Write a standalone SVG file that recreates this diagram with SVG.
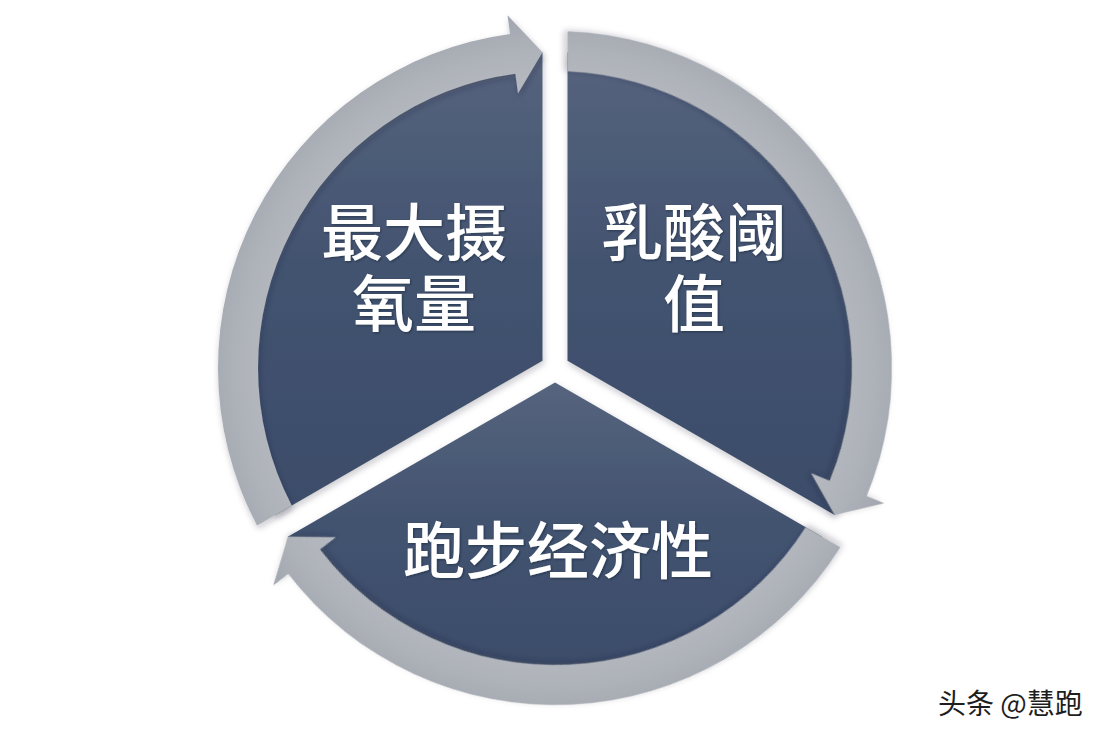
<svg xmlns="http://www.w3.org/2000/svg" width="1108" height="738" viewBox="0 0 1108 738">
  <defs>
    <linearGradient id="seg" x1="0" y1="0" x2="0" y2="1">
      <stop offset="0" stop-color="#56647e"/>
      <stop offset="0.45" stop-color="#435370"/>
      <stop offset="1" stop-color="#3b4c6a"/>
    </linearGradient>
    <radialGradient id="ringFill" gradientUnits="userSpaceOnUse" cx="555" cy="368" r="360">
      <stop offset="0.76" stop-color="#b7bac1"/>
      <stop offset="0.88" stop-color="#aeb2b9"/>
      <stop offset="0.95" stop-color="#a6aab2"/>
      <stop offset="1" stop-color="#a0a4ad"/>
    </radialGradient>
    <filter id="shadow" x="-10%" y="-10%" width="120%" height="120%">
      <feDropShadow dx="1" dy="3" stdDeviation="3" flood-color="#1c2333" flood-opacity="0.25"/>
    </filter>
    <filter id="tshadow" x="-5%" y="-5%" width="110%" height="110%">
      <feDropShadow dx="1" dy="1" stdDeviation="1" flood-color="#0e1626" flood-opacity="0.45"/>
    </filter>
    <path id="ringShape" d="M 257.10,525.56 A 337 337 0 0 1 510.02,34.02 L 507.49,15.19 L 542.5,52.25 L 518.03,93.48 L 515.36,73.66 A 297 297 0 0 0 291.77,505.54 Z"/>
  </defs>
  <style>
    .sector { fill: url(#seg); filter: url(#shadow); }
    .ring { fill: url(#ringFill); filter: url(#shadow); }
    .label { font-family: "Noto Sans CJK SC", "Noto Sans", sans-serif; font-size: 62px; font-weight: 500; fill: #ffffff; text-anchor: middle; filter: url(#tshadow); }
    .mark { font-family: "Noto Sans CJK SC", "Liberation Sans", sans-serif; font-size: 28px; font-weight: 400; fill: #1e1e1e; }
  </style>
  <rect x="0" y="0" width="1108" height="738" fill="#ffffff"/>

  <g id="node-vo2max">
    <path class="sector" d="M 542.5,360.8 L 275.30,515.05 A 316 316 0 0 1 542.5,52.25 Z"/>
    <text class="label"><tspan x="414" y="256">最大摄</tspan><tspan x="414" y="327">氧量</tspan></text>
  </g>

  <g id="node-lactate">
    <path class="sector" d="M 567.5,360.8 L 567.5,52.25 A 316 316 0 0 1 834.70,515.05 Z"/>
    <text class="label"><tspan x="694" y="256">乳酸阈</tspan><tspan x="694" y="327">值</tspan></text>
  </g>

  <g id="node-economy">
    <path class="sector" d="M 555,382.43 L 822.20,536.70 A 316 316 0 0 1 287.80,536.70 Z"/>
    <text class="label" x="558" y="574">跑步经济性</text>
  </g>

  <g id="connectors">
    <use href="#ringShape" class="ring"/>
    <use href="#ringShape" class="ring" transform="rotate(120 555 368)"/>
    <use href="#ringShape" class="ring" transform="rotate(240 555 368)"/>
  </g>

  <text class="mark" x="938" y="714">头条 @慧跑</text>
</svg>
